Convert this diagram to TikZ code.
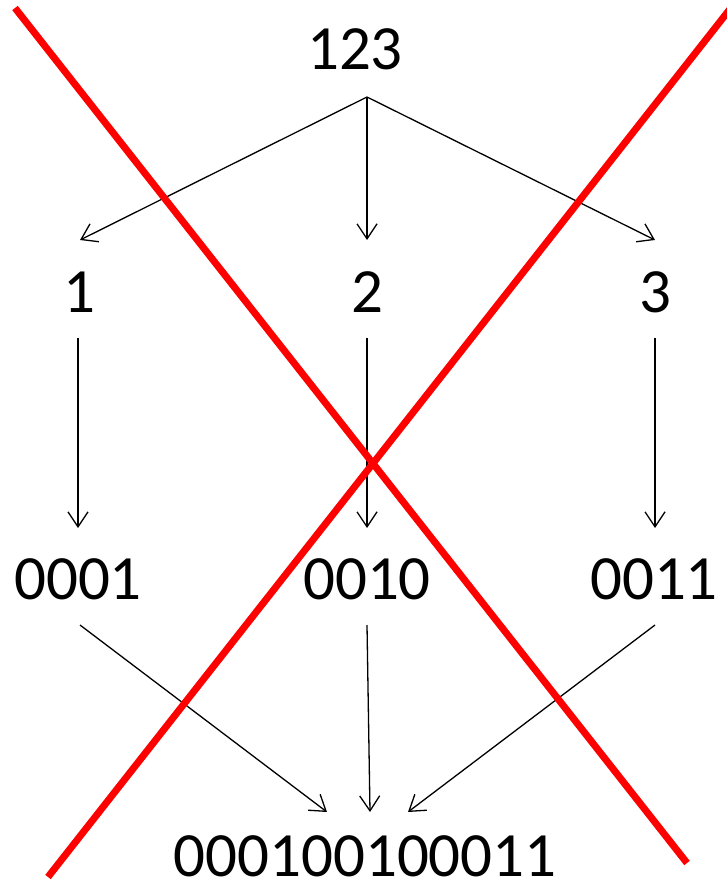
\documentclass[tikz,border=0pt]{standalone}
\usepackage{fontspec}
\setmainfont{Carlito}
\usetikzlibrary{arrows.meta}
\begin{document}
\begin{tikzpicture}[x=1pt,y=-1pt,
  lbl/.style={inner sep=0pt,anchor=base,font=\fontsize{63}{75}\selectfont},
  conn/.style={line width=1.3pt,-{Straight Barb[length=15pt,width=20pt,line width=1.3pt]}},
  cross/.style={line width=7pt,red}]
\useasboundingbox[fill=white] (0,0) rectangle (727,891);
% labels
\node[lbl] (n123) at (355,70) {123};
\node[lbl] (n1) at (79,312) {1};
\node[lbl] (n2) at (367,312) {2};
\node[lbl] (n3) at (655,312) {3};
\node[lbl] (b1) at (78,599) {0001};
\node[lbl] (b2) at (367,599) {0010};
\node[lbl] (b3) at (654,599) {0011};
\node[lbl] (all) at (365,876) {000100100011};
% connector endpoints
\coordinate (s123) at (367,97);
\coordinate (t1) at (80,240);
\coordinate (t2) at (367,240);
\coordinate (t3) at (655,240);
\coordinate (s1) at (78,338);
\coordinate (s2) at (367,338);
\coordinate (s3) at (655,338);
\coordinate (u1) at (78,528);
\coordinate (u2) at (367,528);
\coordinate (u3) at (655,528);
\coordinate (v1) at (80,625);
\coordinate (v2) at (367,625);
\coordinate (v3) at (655,625);
\coordinate (w1) at (327,812);
\coordinate (w2) at (370,812);
\coordinate (w3) at (408,812);
% connectors
\draw[conn] (s123) -- (t1);
\draw[conn] (s123) -- (t2);
\draw[conn] (s123) -- (t3);
\draw[conn] (s1) -- (u1);
\draw[conn] (s2) -- (u2);
\draw[conn] (s3) -- (u3);
\draw[conn] (v1) -- (w1);
\draw[conn] (v2) -- (w2);
\draw[conn] (v3) -- (w3);
% red cross
\coordinate (r1a) at (15,8);
\coordinate (r1b) at (687,863);
\coordinate (r2a) at (48,877);
\coordinate (r2b) at (730,9);
\draw[cross] (r1a) -- (r1b);
\draw[cross] (r2a) -- (r2b);
\end{tikzpicture}
\end{document}
